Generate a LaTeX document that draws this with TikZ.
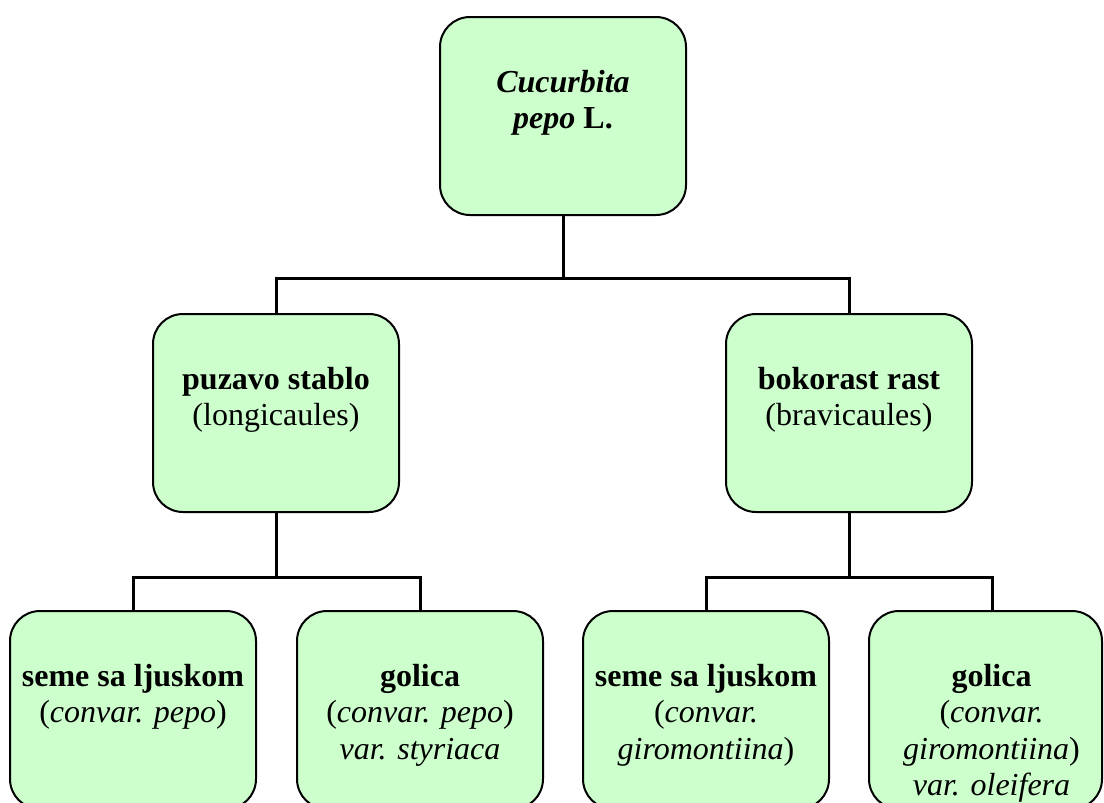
\documentclass[tikz,border=0pt]{standalone}
\usepackage{fontspec}
\setmainfont{Liberation Serif}
\definecolor{boxfill}{HTML}{CCFFCC}
\tikzset{
  box/.style={draw=black, line width=2pt, fill=boxfill, rounded corners=30pt,
    minimum height=198pt, inner sep=0pt},
  lbl/.style={anchor=north, inner sep=0pt, align=center,
    font=\fontsize{32}{36.5}\selectfont},
  conn/.style={draw=black, line width=3pt}
}
\begin{document}
\begin{tikzpicture}[x=1pt,y=-1pt]
\useasboundingbox (0,0) rectangle (1104,803);
\begin{scope}
\clip (0,0) rectangle (1104,803);
% boxes
\node[box, minimum width=246pt] (top) at (563,116) {};
\node[box, minimum width=246pt] (mL) at (276,413) {};
\node[box, minimum width=246pt] (mR) at (849,413) {};
\node[box, minimum width=246pt] (b1) at (133,710) {};
\node[box, minimum width=246pt] (b2) at (420,710) {};
\node[box, minimum width=246pt] (b3) at (706,710) {};
\node[box, minimum width=233pt] (b4) at (985.5,710) {};
% labels
\node[lbl] (ttop) at ([yshift=-50.4pt]top.north) {\strut\textbf{\textit{Cucurbita}}\\\textbf{\textit{pepo} L.}};
\node[lbl] (tmL) at ([yshift=-50.4pt]mL.north) {\strut\textbf{puzavo stablo}\\(longicaules)};
\node[lbl] (tmR) at ([yshift=-50.4pt]mR.north) {\strut\textbf{bokorast rast}\\(bravicaules)};
\node[lbl] (tb1) at ([yshift=-50.4pt]b1.north) {\strut\textbf{seme sa ljuskom}\\(\textit{convar. pepo})};
\node[lbl] (tb2) at ([yshift=-50.4pt]b2.north) {\strut\textbf{golica}\\(\textit{convar. pepo})\\\textit{var. styriaca}};
\node[lbl] (tb3) at ([yshift=-50.4pt]b3.north) {\strut\textbf{seme sa ljuskom}\\(\textit{convar.}\\\textit{giromontiina})};
\node[lbl] (tb4) at ([xshift=6pt,yshift=-50.4pt]b4.north) {\strut\textbf{golica}\\(\textit{convar.}\\\textit{giromontiina})\\\textit{var. oleifera}};
% junctions
\coordinate (j1) at (563,278);
\coordinate (j2) at (276,577);
\coordinate (j3) at (849,577);
\coordinate (b4c) at (992,611);
% connectors
\draw[conn] (top.south) -- (j1);
\draw[conn] (mL.north) |- (j1) -| (mR.north);
\draw[conn] (mL.south) -- (j2);
\draw[conn] (b1.north) |- (j2) -| (b2.north);
\draw[conn] (mR.south) -- (j3);
\draw[conn] (b3.north) |- (j3) -| (b4c);
\end{scope}
\end{tikzpicture}
\end{document}
